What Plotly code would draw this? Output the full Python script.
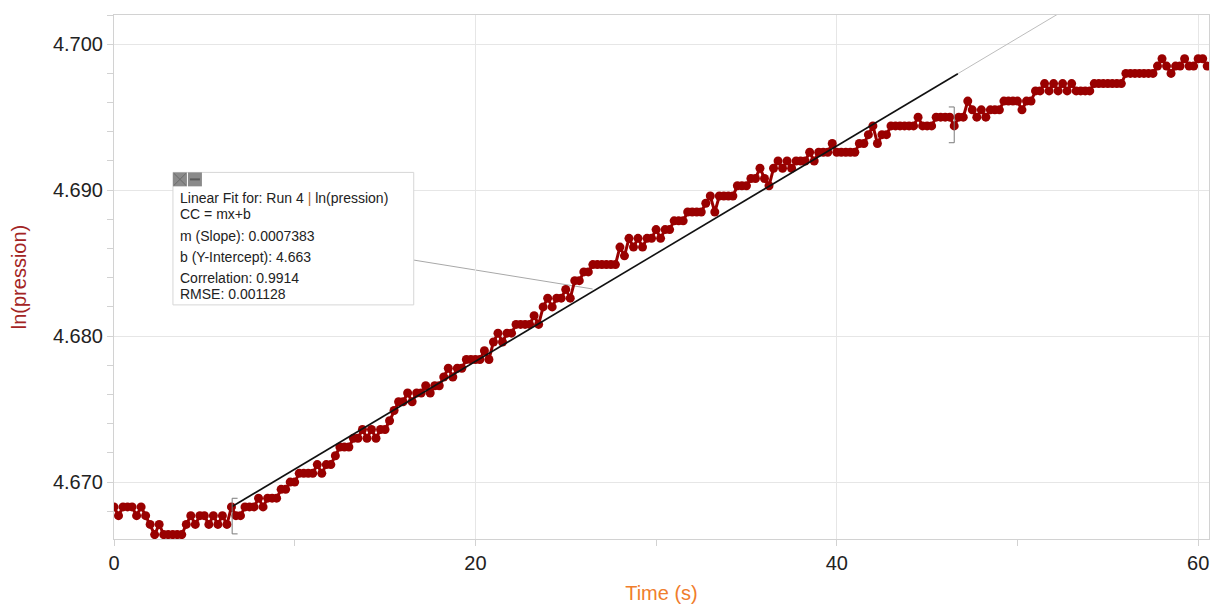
import plotly.graph_objects as go

# ---------------- data ----------------
TIME_S = [
    0.0, 0.25, 0.5, 0.75, 1.0, 1.25, 1.5, 1.75,
    2.0, 2.25, 2.5, 2.75, 3.0, 3.25, 3.5, 3.75,
    4.0, 4.25, 4.5, 4.75, 5.0, 5.25, 5.5, 5.75,
    6.0, 6.25, 6.5, 6.75, 7.0, 7.25, 7.5, 7.75,
    8.0, 8.25, 8.5, 8.75, 9.0, 9.25, 9.5, 9.75,
    10.0, 10.25, 10.5, 10.75, 11.0, 11.25, 11.5, 11.75,
    12.0, 12.25, 12.5, 12.75, 13.0, 13.25, 13.5, 13.75,
    14.0, 14.25, 14.5, 14.75, 15.0, 15.25, 15.5, 15.75,
    16.0, 16.25, 16.5, 16.75, 17.0, 17.25, 17.5, 17.75,
    18.0, 18.25, 18.5, 18.75, 19.0, 19.25, 19.5, 19.75,
    20.0, 20.25, 20.5, 20.75, 21.0, 21.25, 21.5, 21.75,
    22.0, 22.25, 22.5, 22.75, 23.0, 23.25, 23.5, 23.75,
    24.0, 24.25, 24.5, 24.75, 25.0, 25.25, 25.5, 25.75,
    26.0, 26.25, 26.5, 26.75, 27.0, 27.25, 27.5, 27.75,
    28.0, 28.25, 28.5, 28.75, 29.0, 29.25, 29.5, 29.75,
    30.0, 30.25, 30.5, 30.75, 31.0, 31.25, 31.5, 31.75,
    32.0, 32.25, 32.5, 32.75, 33.0, 33.25, 33.5, 33.75,
    34.0, 34.25, 34.5, 34.75, 35.0, 35.25, 35.5, 35.75,
    36.0, 36.25, 36.5, 36.75, 37.0, 37.25, 37.5, 37.75,
    38.0, 38.25, 38.5, 38.75, 39.0, 39.25, 39.5, 39.75,
    40.0, 40.25, 40.5, 40.75, 41.0, 41.25, 41.5, 41.75,
    42.0, 42.25, 42.5, 42.75, 43.0, 43.25, 43.5, 43.75,
    44.0, 44.25, 44.5, 44.75, 45.0, 45.25, 45.5, 45.75,
    46.0, 46.25, 46.5, 46.75, 47.0, 47.25, 47.5, 47.75,
    48.0, 48.25, 48.5, 48.75, 49.0, 49.25, 49.5, 49.75,
    50.0, 50.25, 50.5, 50.75, 51.0, 51.25, 51.5, 51.75,
    52.0, 52.25, 52.5, 52.75, 53.0, 53.25, 53.5, 53.75,
    54.0, 54.25, 54.5, 54.75, 55.0, 55.25, 55.5, 55.75,
    56.0, 56.25, 56.5, 56.75, 57.0, 57.25, 57.5, 57.75,
    58.0, 58.25, 58.5, 58.75, 59.0, 59.25, 59.5, 59.75,
    60.0, 60.25, 60.5,
]

LN_PRESSION = [
    4.6683, 4.6677, 4.6683, 4.6683, 4.6683, 4.6677, 4.6683, 4.6677,
    4.6671, 4.6664, 4.6671, 4.6664, 4.6664, 4.6664, 4.6664, 4.6664,
    4.6671, 4.6677, 4.6671, 4.6677, 4.6677, 4.6671, 4.6677, 4.6671,
    4.6677, 4.6671, 4.6683, 4.6677, 4.6677, 4.6683, 4.6683, 4.6683,
    4.6689, 4.6683, 4.6689, 4.6689, 4.6689, 4.6695, 4.6695, 4.6700,
    4.6700, 4.6706, 4.6706, 4.6706, 4.6706, 4.6712, 4.6706, 4.6712,
    4.6712, 4.6718, 4.6724, 4.6724, 4.6724, 4.6730, 4.6730, 4.6736,
    4.6730, 4.6736, 4.6730, 4.6736, 4.6736, 4.6742, 4.6749, 4.6755,
    4.6755, 4.6761, 4.6755, 4.6761, 4.6761, 4.6766, 4.6761, 4.6766,
    4.6766, 4.6772, 4.6778, 4.6772, 4.6778, 4.6778, 4.6784, 4.6784,
    4.6784, 4.6784, 4.6790, 4.6784, 4.6796, 4.6802, 4.6796, 4.6802,
    4.6802, 4.6808, 4.6808, 4.6808, 4.6808, 4.6814, 4.6808, 4.6820,
    4.6826, 4.6820, 4.6826, 4.6826, 4.6832, 4.6826, 4.6838, 4.6838,
    4.6844, 4.6844, 4.6849, 4.6849, 4.6849, 4.6849, 4.6849, 4.6849,
    4.6861, 4.6855, 4.6867, 4.6861, 4.6867, 4.6861, 4.6867, 4.6867,
    4.6873, 4.6867, 4.6873, 4.6873, 4.6879, 4.6879, 4.6879, 4.6885,
    4.6885, 4.6885, 4.6885, 4.6891, 4.6896, 4.6885, 4.6896, 4.6896,
    4.6896, 4.6896, 4.6903, 4.6903, 4.6903, 4.6908, 4.6908, 4.6915,
    4.6908, 4.6903, 4.6915, 4.6920, 4.6915, 4.6920, 4.6915, 4.6920,
    4.6920, 4.6920, 4.6926, 4.6920, 4.6926, 4.6926, 4.6926, 4.6932,
    4.6926, 4.6926, 4.6926, 4.6926, 4.6926, 4.6932, 4.6932, 4.6938,
    4.6944, 4.6932, 4.6938, 4.6938, 4.6944, 4.6944, 4.6944, 4.6944,
    4.6944, 4.6944, 4.6950, 4.6944, 4.6944, 4.6944, 4.6950, 4.6950,
    4.6950, 4.6950, 4.6944, 4.6950, 4.6950, 4.6961, 4.6955, 4.6950,
    4.6955, 4.6950, 4.6955, 4.6955, 4.6955, 4.6961, 4.6961, 4.6961,
    4.6961, 4.6955, 4.6961, 4.6961, 4.6968, 4.6968, 4.6973, 4.6968,
    4.6973, 4.6968, 4.6973, 4.6968, 4.6973, 4.6968, 4.6968, 4.6968,
    4.6968, 4.6973, 4.6973, 4.6973, 4.6973, 4.6973, 4.6973, 4.6973,
    4.6980, 4.6980, 4.6980, 4.6980, 4.6980, 4.6980, 4.6980, 4.6985,
    4.6990, 4.6985, 4.6980, 4.6985, 4.6985, 4.6990, 4.6985, 4.6985,
    4.6990, 4.6990, 4.6985,
]

# Linear fit shown in the reference
FIT_SLOPE = 0.0007383
FIT_INTERCEPT = 4.6635
FIT_T_START = 6.54
FIT_T_END = 46.7
FIT_T_EXTEND = 54.0

# Bracket limits of the fitted region (time, y-bottom, y-top)
BRACKET_LEFT = (6.54, 4.66645, 4.66889)
BRACKET_RIGHT = (46.5, 4.69325, 4.69570)

X_TICKS = [0, 20, 40, 60]
Y_TICKS = [4.670, 4.680, 4.690, 4.700]
X_RANGE = [0, 60.6]
Y_RANGE = [4.6661, 4.7020]

FIT_BOX_LINES = [
    "Linear Fit for: Run 4 <span style='color:#b0652e'>|</span> ln(pression)",
    "CC = mx+b",
    "m (Slope): 0.0007383",
    "b (Y-Intercept): 4.663",
    "Correlation: 0.9914",
    "RMSE: 0.001128",
]
X_TITLE = "Time (s)"
Y_TITLE = "ln(pression)"

# ---------------- layout geometry ----------------
W, H = 1216, 606
ML, MR, MT, MB = 114, 6, 15, 65
PW = W - ML - MR
PH = H - MT - MB


def px_x(px):
    return (px - ML) / PW


def px_y(py):
    return (H - MB - py) / PH


FONT = "Liberation Sans, Arial, Helvetica, sans-serif"
DATA_COLOR = "#990000"

fig = go.Figure()

# fit line (black) and its thin grey extension
fit_x = [FIT_T_START, FIT_T_END]
fit_y = [FIT_INTERCEPT + FIT_SLOPE * t for t in fit_x]
ext_x = [FIT_T_END, FIT_T_EXTEND]
ext_y = [FIT_INTERCEPT + FIT_SLOPE * t for t in ext_x]

fig.add_trace(go.Scatter(
    x=ext_x, y=ext_y, mode="lines",
    line=dict(color="#bdbdbd", width=1),
    hoverinfo="skip", showlegend=False,
))

fig.add_trace(go.Scatter(
    x=TIME_S, y=LN_PRESSION, mode="lines+markers",
    line=dict(color=DATA_COLOR, width=3),
    marker=dict(color=DATA_COLOR, size=9),
    name="Run 4 | ln(pression)", showlegend=False,
))

fig.add_trace(go.Scatter(
    x=fit_x, y=fit_y, mode="lines",
    line=dict(color="#111111", width=1.6),
    hoverinfo="skip", showlegend=False,
))

shapes = []
# brackets
bl_t, bl_lo, bl_hi = BRACKET_LEFT
br_t, br_lo, br_hi = BRACKET_RIGHT
dt = 0.3
shapes.append(dict(type="path", xref="x", yref="y",
                   path=f"M {bl_t + dt},{bl_hi} L {bl_t},{bl_hi} L {bl_t},{bl_lo} L {bl_t + dt},{bl_lo}",
                   line=dict(color="#7a7a7a", width=1)))
shapes.append(dict(type="path", xref="x", yref="y",
                   path=f"M {br_t - dt},{br_hi} L {br_t},{br_hi} L {br_t},{br_lo} L {br_t - dt},{br_lo}",
                   line=dict(color="#7a7a7a", width=1)))

# connector line from the box to the fit line
shapes.append(dict(type="line", xref="paper", yref="paper",
                   x0=px_x(414), y0=px_y(261), x1=px_x(593), y1=px_y(290),
                   line=dict(color="#a8a8a8", width=1), layer="below"))

# fit info box
shapes.append(dict(type="rect", xref="paper", yref="paper",
                   x0=px_x(173), x1=px_x(414), y0=px_y(306), y1=px_y(173),
                   line=dict(color="#d6d6d6", width=1), fillcolor="white", layer="above"))
# toolbar buttons
shapes.append(dict(type="rect", xref="paper", yref="paper",
                   x0=px_x(173), x1=px_x(187), y0=px_y(187), y1=px_y(173),
                   line=dict(width=0), fillcolor="#8a8a8a", layer="above"))
shapes.append(dict(type="rect", xref="paper", yref="paper",
                   x0=px_x(188), x1=px_x(202), y0=px_y(187), y1=px_y(173),
                   line=dict(width=0), fillcolor="#8a8a8a", layer="above"))
shapes.append(dict(type="line", xref="paper", yref="paper",
                   x0=px_x(174), y0=px_y(174), x1=px_x(186), y1=px_y(186),
                   line=dict(color="#6a6a6a", width=1), layer="above"))
shapes.append(dict(type="line", xref="paper", yref="paper",
                   x0=px_x(174), y0=px_y(186), x1=px_x(186), y1=px_y(174),
                   line=dict(color="#6a6a6a", width=1), layer="above"))
shapes.append(dict(type="line", xref="paper", yref="paper",
                   x0=px_x(190), y0=px_y(180), x1=px_x(200), y1=px_y(180),
                   line=dict(color="#5a5a5a", width=2), layer="above"))

annotations = []
line_centres = [199, 215, 237, 258, 279, 295]
for txt, yc in zip(FIT_BOX_LINES, line_centres):
    annotations.append(dict(
        text=txt, xref="paper", yref="paper",
        x=px_x(178), y=px_y(yc), xanchor="left", yanchor="middle",
        showarrow=False, font=dict(family=FONT, size=14, color="#222222"),
    ))

AX_LINE = "#d2d2d2"
GRID = "#e6e6e6"

fig.update_layout(
    width=W, height=H,
    margin=dict(l=ML, r=MR, t=MT, b=MB, pad=0),
    paper_bgcolor="white", plot_bgcolor="white",
    font=dict(family=FONT, size=20, color="#222222"),
    shapes=shapes, annotations=annotations,
    xaxis=dict(
        range=X_RANGE, tickmode="array", tickvals=X_TICKS,
        ticktext=[str(v) for v in X_TICKS],
        showgrid=True, gridcolor=GRID, gridwidth=1,
        zeroline=False, showline=True, linecolor=AX_LINE, linewidth=1, mirror=True,
        ticks="outside", ticklen=6, tickcolor=AX_LINE,
        minor=dict(dtick=10, tick0=0, ticks="outside", ticklen=6, tickcolor=AX_LINE, showgrid=False),
        tickfont=dict(family=FONT, size=20, color="#222222"),
        title=dict(text=X_TITLE, font=dict(family=FONT, size=20, color="#f07d2c"), standoff=12),
    ),
    yaxis=dict(
        range=Y_RANGE, tickmode="array", tickvals=Y_TICKS,
        ticktext=[f"{v:.3f}" for v in Y_TICKS],
        showgrid=True, gridcolor=GRID, gridwidth=1,
        zeroline=False, showline=True, linecolor=AX_LINE, linewidth=1, mirror=True,
        ticks="outside", ticklen=6, tickcolor=AX_LINE,
        minor=dict(dtick=0.002, tick0=4.670, ticks="outside", ticklen=6, tickcolor=AX_LINE, showgrid=False),
        tickfont=dict(family=FONT, size=20, color="#222222"),
        title=dict(text=Y_TITLE, font=dict(family=FONT, size=20, color="#a32424"), standoff=20),
    ),
)

fig.write_html("out.html", config={"displayModeBar": False},
               post_script="document.body.style.margin='0';")
